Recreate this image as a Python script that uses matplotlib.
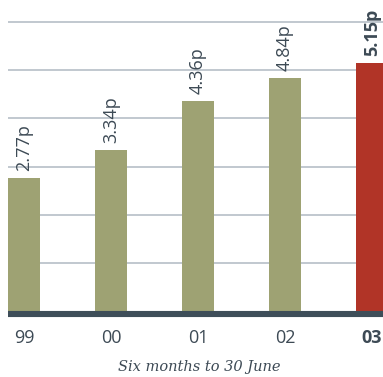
import matplotlib
matplotlib.use("Agg")
import matplotlib.pyplot as plt

years = ["99", "00", "01", "02", "03"]
values = [2.77, 3.34, 4.36, 4.84, 5.15]
labels = ["2.77p", "3.34p", "4.36p", "4.84p", "5.15p"]
xlabel = "Six months to 30 June"

olive = "#9ea273"
red = "#b13427"
dark = "#3e4e59"
textc = "#3d4a55"
gridc = "#bcc4cc"

W, H = 383, 377
fig = plt.figure(figsize=(W / 100, H / 100), dpi=100)
ax_bottom_px = 317.5
ax = fig.add_axes([8 / W, (H - ax_bottom_px) / H, 1 - 8 / W, ax_bottom_px / H])

xs = list(range(len(years)))
colors = [olive] * (len(years) - 1) + [red]
ax.bar(xs, values, width=0.368, color=colors, zorder=2)

ax.set_xlim(-0.184, 4.126)
ax.set_ylim(-0.135, 6.46)

for y in range(1, 7):
    ax.axhline(y, color=gridc, lw=1.3, zorder=1)
ax.axhline(-0.065, color=dark, lw=4.4, zorder=3, solid_capstyle="butt")

for i, (x, v, lab) in enumerate(zip(xs, values, labels)):
    ax.annotate(lab, (x, v), xytext=(0, 5), textcoords="offset points",
                rotation=90, ha="center", va="bottom", fontsize=13,
                family="Open Sans", color=textc,
                fontweight="bold" if i == len(xs) - 1 else "normal",
                zorder=4, annotation_clip=False)

ax.set_xticks(xs)
ax.set_xticklabels(years, fontsize=13, family="Open Sans", color=textc)
ax.get_xticklabels()[-1].set_fontweight("bold")
ax.tick_params(axis="x", length=0, pad=8.5)
ax.set_yticks([])
for s in ax.spines.values():
    s.set_visible(False)

fig.text((115 + 283) / 2 / W, 1 - 367 / H, xlabel, ha="center", va="center",
         fontsize=10.5, family="DejaVu Serif", style="italic", color=textc)

fig.savefig("out.png", dpi=100)
